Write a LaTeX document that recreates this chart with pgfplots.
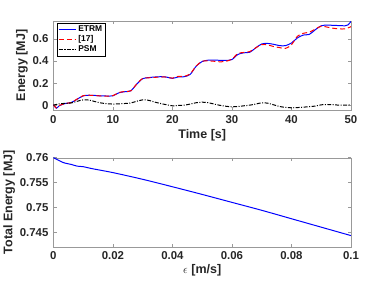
\documentclass[border=0pt]{standalone}
\usepackage{pgfplots}
\pgfplotsset{compat=1.18}
\usepackage{fontspec}
\setmainfont{Liberation Sans}
\definecolor{axgray}{gray}{0.6}
\definecolor{txt}{gray}{0.15}
\pgfplotsset{
  myax/.style={
    /pgf/number format/assume math mode=true,
    axis line style={axgray},
    every tick/.style={axgray, line width=0.5pt},
    major tick length=3.5pt,
    tick align=inside,
    tick label style={font=\fontsize{11.5}{13}\selectfont\bfseries, text=txt},
    xticklabel style={yshift=-1.5pt},
    yticklabel style={xshift=-1.5pt},
    label style={font=\fontsize{12.6}{14}\selectfont\bfseries, text=txt},
    scale only axis,
    width=300pt,
    height=90pt,
  }
}
\begin{document}
\begin{tikzpicture}
\path (0pt,0pt) -- (388pt,291pt);
\begin{axis}[myax,
  at={(50.7pt,180pt)}, anchor=south west,
  xmin=0, xmax=50, ymin=-0.045, ymax=0.765,
  xtick={0,10,...,50}, ytick={0,0.2,0.4,0.6},
  yticklabels={0,0.2,0.4,0.6},
  xlabel={Time [s]}, ylabel={Energy [MJ]},
  xlabel style={yshift=1pt}, ylabel style={yshift=-2pt},
  legend style={font=\fontsize{8.5}{10}\selectfont\bfseries,
    inner sep=1pt, row sep=-1.5pt, at={(0.013,0.98)}, anchor=north west},
  legend cell align=left,
]
\addplot[blue, line width=1pt, smooth] coordinates {
(0,0.005)(0.5,-0.028)(1,-0.005)(2,0.015)(3,0.024)(4,0.054)(5,0.084)(6,0.09)(7,0.088)(8,0.084)(9,0.083)(10,0.085)(11,0.112)(12,0.122)(13,0.13)(14,0.19)(15,0.24)(16,0.25)(17,0.255)(18,0.258)(19,0.255)(20,0.243)(21,0.256)(22,0.258)(23,0.28)(24,0.354)(25,0.396)(26,0.408)(27,0.408)(28,0.407)(29,0.406)(30,0.414)(31,0.46)(32,0.475)(33,0.48)(34,0.52)(35,0.555)(36,0.56)(37,0.552)(38,0.54)(39,0.54)(40,0.564)(41,0.61)(42,0.636)(43,0.642)(44,0.684)(45,0.72)(46,0.726)(47,0.724)(48,0.722)(49,0.72)(49.5,0.728)(50,0.76)
};
\addlegendentry{ETRM}
\addplot[red, line width=1pt, dash pattern=on 5pt off 3pt, smooth] coordinates {
(0,0.005)(0.5,-0.025)(1,-0.003)(2,0.015)(3,0.024)(4,0.056)(5,0.086)(6,0.09)(7,0.087)(8,0.083)(9,0.082)(10,0.086)(11,0.114)(12,0.124)(13,0.13)(14,0.192)(15,0.242)(16,0.248)(17,0.252)(18,0.255)(19,0.255)(20,0.245)(21,0.262)(22,0.262)(23,0.285)(24,0.356)(25,0.398)(26,0.402)(27,0.398)(28,0.393)(29,0.398)(30,0.418)(31,0.468)(32,0.478)(33,0.486)(34,0.52)(35,0.55)(36,0.546)(37,0.532)(38,0.522)(39,0.515)(40,0.548)(41,0.625)(42,0.652)(43,0.662)(44,0.69)(45,0.716)(46,0.708)(47,0.698)(48,0.692)(49,0.692)(50,0.712)
};
\addlegendentry{[17]}
\addplot[black, line width=1pt, dash pattern=on 4pt off 1.5pt on 1pt off 1.5pt, smooth] coordinates {
(0,0)(1,0.012)(2,0.016)(3,0.02)(4,0.035)(5,0.048)(6,0.046)(7,0.032)(8,0.02)(9,0.013)(10,0.01)(11,0.012)(12,0.015)(13,0.02)(14,0.035)(15,0.048)(16,0.044)(17,0.028)(18,0.015)(19,0.004)(20,-0.006)(21,-0.003)(22,0)(23,0.01)(24,0.022)(25,0.027)(26,0.022)(27,0.01)(28,-0.002)(29,-0.01)(30,-0.015)(31,-0.012)(32,-0.006)(33,0)(34,0.01)(35,0.021)(36,0.018)(37,0.003)(38,-0.012)(39,-0.02)(40,-0.024)(41,-0.022)(42,-0.018)(43,-0.014)(44,-0.008)(45,0.003)(46,0.006)(47,0.004)(48,0)(49,0)(50,0.003)
};
\addlegendentry{PSM}
\end{axis}
\begin{axis}[myax,
  at={(50.7pt,42pt)}, anchor=south west,
  xmin=0, xmax=0.1, ymin=0.742, ymax=0.76,
  xtick={0,0.02,...,0.1}, ytick={0.745,0.75,0.755,0.76},
  xticklabels={0,0.02,0.04,0.06,0.08,0.1},
  yticklabels={0.745,0.75,0.755,0.76},
  xlabel={$\epsilon$ [m/s]}, ylabel={Total Energy [MJ]},
  xlabel style={yshift=2pt}, ylabel style={yshift=-2pt},
]
\addplot[blue, line width=1pt, smooth] coordinates {
(0,0.76)(0.001,0.7597)(0.002,0.7594)(0.003,0.7591)(0.004,0.7589)(0.006,0.75865)(0.008,0.7583)(0.01,0.7582)(0.013,0.7578)(0.02,0.7570)(0.03,0.75565)(0.04,0.75415)(0.05,0.7526)(0.06,0.7510)(0.07,0.7494)(0.08,0.7477)(0.09,0.7460)(0.1,0.7443)
};
\end{axis}
\end{tikzpicture}
\end{document}
